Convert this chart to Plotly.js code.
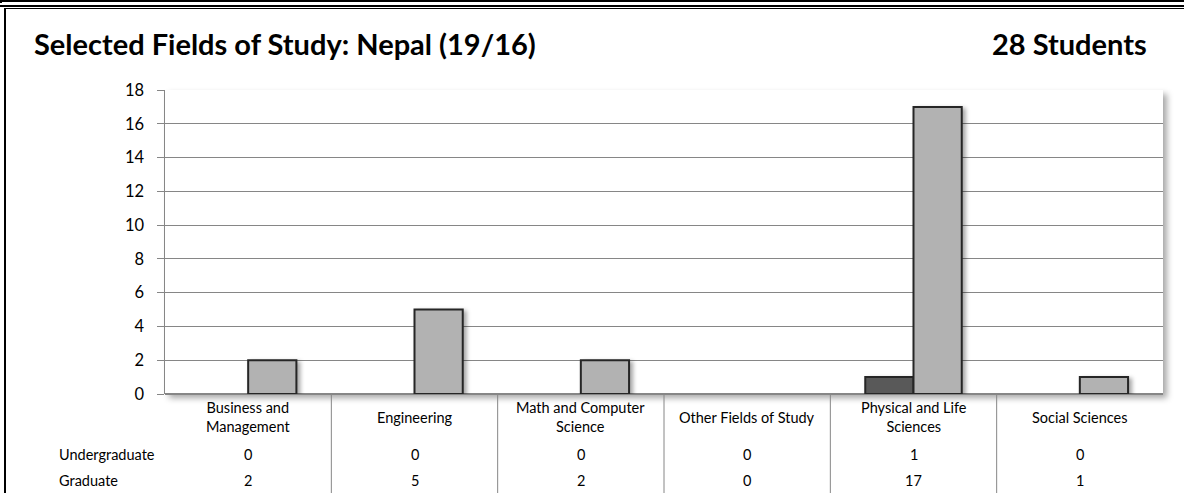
<!DOCTYPE html>
<html>
<head>
<meta charset="utf-8">
<script src="https://cdn.plot.ly/plotly-3.0.1.min.js"></script>
<style>
  html, body { margin: 0; padding: 0; background: #fff; }
  #wrap { position: relative; width: 1184px; height: 493px; overflow: hidden; }
  #chart { position: absolute; left: 0; top: 0; width: 1184px; height: 493px; }
  .ln { position: absolute; background: #000; }
  .barlayer .point path { filter: drop-shadow(3px 2px 2px rgba(0,0,0,0.35)); }
</style>
</head>
<body>
<div id="wrap">
  <div id="chart"></div>
  <div class="ln" style="left:0;top:0;width:1184px;height:2px;"></div>
  <div class="ln" style="left:0;top:0;width:2px;height:3px;"></div>
  <div class="ln" style="left:0;top:5px;width:1184px;height:2px;"></div>
  <div class="ln" style="left:4px;top:8px;width:1180px;height:1px;"></div>
  <div class="ln" style="left:4px;top:8px;width:2px;height:485px;"></div>
</div>
<script>
const categories = ["Business and Management", "Engineering", "Math and Computer Science", "Other Fields of Study", "Physical and Life Sciences", "Social Sciences"];
const headerLabels = ["Business and<br>Management", "Engineering", "Math and Computer<br>Science", "Other Fields of Study", "Physical and Life<br>Sciences", "Social Sciences"];
const undergraduate = [0, 0, 0, 0, 1, 0];
const graduate = [2, 5, 2, 0, 17, 1];
const seriesNames = ["Undergraduate", "Graduate"];
const titleText = "Selected Fields of Study: Nepal (19/16)";
const totalText = "28 Students";
const yTicks = [0, 2, 4, 6, 8, 10, 12, 14, 16, 18];

const FONT = "Lato, 'Open Sans', sans-serif";
const PL = 165, PR = 1163, PT = 90, PB = 394, W = 1184, H = 493;
const px2x = p => (p - PL) / (PR - PL);
const px2y = p => (PB - p) / (PB - PT);

const idx = categories.map((_, i) => i);
const lineW = vals => vals.map(v => (v === 0 ? 0 : 2));

const traces = [
  { type: "bar", name: seriesNames[0], x: idx, y: undergraduate,
    marker: { color: "#595959", line: { color: "#262626", width: lineW(undergraduate) } }, hoverinfo: "skip" },
  { type: "bar", name: seriesNames[1], x: idx, y: graduate,
    marker: { color: "#b2b2b2", line: { color: "#262626", width: lineW(graduate) } }, hoverinfo: "skip" }
];

const annotations = [];
annotations.push({ xref: "paper", yref: "paper", x: px2x(32), y: px2y(44), xanchor: "left", yanchor: "middle",
  text: "<b>" + titleText + "</b>", showarrow: false, font: { family: FONT, size: 29, color: "#000" } });
annotations.push({ xref: "paper", yref: "paper", x: px2x(1149), y: px2y(44), xanchor: "right", yanchor: "middle",
  text: "<b>" + totalText + "</b>", showarrow: false, font: { family: FONT, size: 29, color: "#000" } });

const rowY = [px2y(454), px2y(480)];
const rows = [undergraduate, graduate];
const TF = 14.5;
seriesNames.forEach((n, r) => {
  annotations.push({ xref: "paper", yref: "paper", x: px2x(57), y: rowY[r], xanchor: "left", yanchor: "middle",
    text: n, showarrow: false, font: { family: FONT, size: TF, color: "#000" } });
  rows[r].forEach((v, i) => {
    annotations.push({ xref: "x", yref: "paper", x: i, y: rowY[r], xanchor: "center", yanchor: "middle",
      text: String(v), showarrow: false, font: { family: FONT, size: TF, color: "#000" } });
  });
});
headerLabels.forEach((t, i) => {
  annotations.push({ xref: "x", yref: "paper", x: i, y: px2y(417), xanchor: "center", yanchor: "middle",
    text: t, showarrow: false, font: { family: FONT, size: TF, color: "#000" } });
});

const shapes = [];
shapes.push({ type: "rect", xref: "paper", yref: "paper", x0: 0, x1: 1, y0: 0, y1: 1, layer: "below",
  fillcolor: "#ffffff", line: { width: 0 } });
for (let i = 0; i < categories.length - 1; i++) {
  shapes.push({ type: "line", xref: "x", yref: "paper", x0: i + 0.5, x1: i + 0.5, y0: 0, y1: px2y(H + 2),
    line: { color: "#868686", width: 1 } });
}

const layout = {
  width: W, height: H,
  margin: { l: PL, r: W - PR, t: PT, b: H - PB, pad: 0 },
  paper_bgcolor: "rgba(0,0,0,0)", plot_bgcolor: "rgba(0,0,0,0)",
  showlegend: false,
  barmode: "group", bargap: 0.42, bargroupgap: 0,
  xaxis: { type: "linear", range: [-0.5, categories.length - 0.5], showticklabels: false, ticks: "",
    showgrid: false, zeroline: false, showline: false, fixedrange: true },
  yaxis: { range: [0, 18], tickvals: yTicks, ticktext: yTicks.map(String), ticks: "outside", ticklen: 7, tickcolor: "#868686",
    tickwidth: 1, showline: true, linecolor: "#868686", linewidth: 1.5, showgrid: true, gridcolor: "#868686", gridwidth: 1,
    zeroline: true, zerolinecolor: "#868686", zerolinewidth: 1.5,
    tickfont: { family: FONT, size: 16.5, color: "#000" }, ticklabelstandoff: 9, fixedrange: true },
  annotations: annotations,
  shapes: shapes
};

Plotly.newPlot("chart", traces, layout, { staticPlot: true, displayModeBar: false }).then(() => {
  document.querySelectorAll('.layer-below .shapelayer path').forEach((p, k) => {
    if (k === 0) p.style.filter = "drop-shadow(4px 4px 3px rgba(0,0,0,0.35))";
  });
});
</script>
</body>
</html>
